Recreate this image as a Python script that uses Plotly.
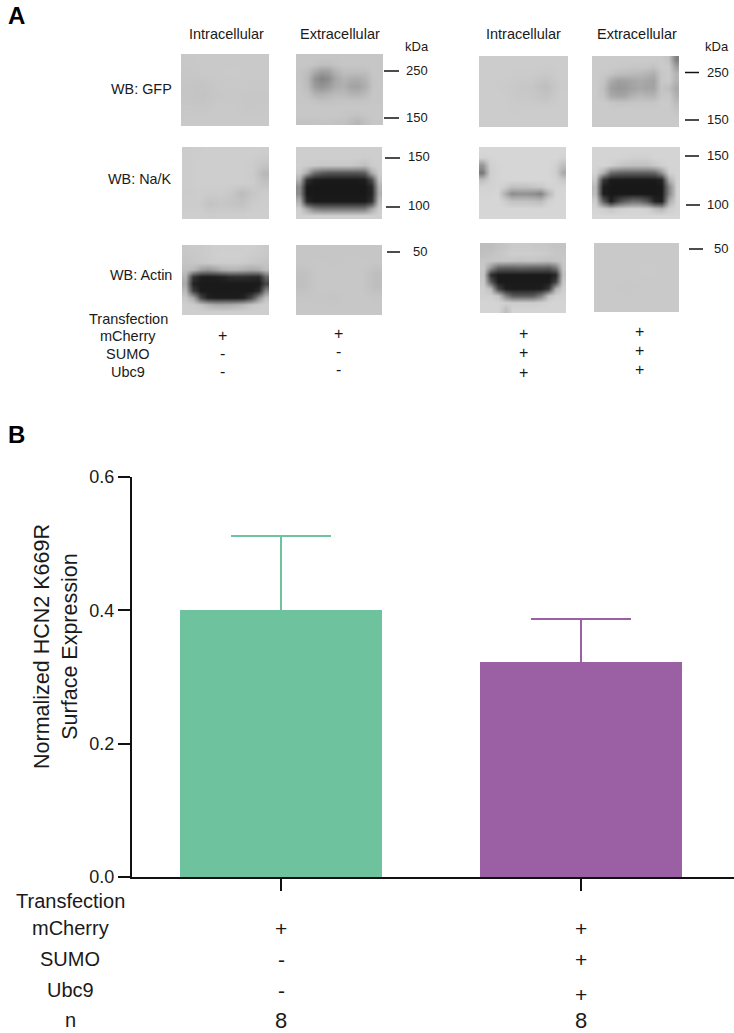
import plotly.graph_objects as go

W, H = 734, 1033

# ---------- Panel B data ----------
bar_groups = [0, 1]
bar_values = [0.40, 0.3225]
bar_errors = [0.111, 0.065]
bar_colors = ["#6FC29E", "#9B5FA3"]
y_ticks = [0.0, 0.2, 0.4, 0.6]

table_labels_b = ["Transfection", "mCherry", "SUMO", "Ubc9", "n"]
table_col1_b = ["+", "-", "-", "8"]
table_col2_b = ["+", "+", "+", "8"]

# ---------- Panel A blot densities (grey level 0-255, read by eye) ----------
gfp_in_l = [
    [200, 201, 201, 201, 201, 201],
    [199, 201, 201, 202, 201, 201],
    [197, 196, 200, 201, 200, 200],
    [197, 195, 199, 200, 199, 199],
    [199, 199, 201, 201, 199, 200],
    [201, 201, 201, 201, 201, 201],
]
gfp_ex_l = [
    [198, 198, 198, 198, 198, 198, 198, 198, 198, 198, 198, 198],
    [198, 198, 195, 190, 190, 195, 198, 198, 198, 198, 198, 198],
    [196, 190, 170, 156, 160, 180, 190, 190, 190, 190, 198, 198],
    [196, 185, 148, 132, 142, 168, 180, 174, 172, 180, 196, 198],
    [197, 188, 156, 146, 156, 172, 176, 164, 162, 174, 196, 198],
    [198, 194, 178, 174, 180, 186, 186, 180, 178, 186, 198, 198],
    [198, 198, 195, 192, 193, 195, 196, 196, 195, 196, 198, 198],
    [199, 199, 199, 199, 199, 199, 199, 199, 199, 199, 199, 199],
    [199, 199, 199, 199, 199, 199, 198, 196, 194, 198, 199, 199],
    [195, 195, 195, 196, 196, 194, 194, 188, 182, 192, 198, 198],
]
nak_in_l = [
    [204, 205, 206, 206, 206, 206, 206, 205],
    [204, 206, 206, 206, 206, 206, 204, 198],
    [204, 206, 206, 206, 206, 206, 203, 184],
    [204, 206, 206, 206, 206, 206, 204, 194],
    [203, 205, 203, 204, 199, 188, 198, 204],
    [204, 204, 195, 198, 196, 194, 203, 205],
    [206, 206, 204, 205, 205, 205, 206, 206],
]
nak_ex_l = [
    [206, 206, 206, 206, 206, 206, 206, 206, 206, 206, 206, 206],
    [206, 206, 206, 206, 206, 206, 206, 206, 206, 204, 206, 206],
    [206, 204, 202, 200, 200, 200, 200, 200, 196, 190, 204, 206],
    [202, 172, 112, 92, 86, 86, 86, 86, 86, 96, 172, 205],
    [176, 50, 28, 26, 26, 26, 26, 26, 26, 30, 76, 196],
    [140, 26, 24, 24, 24, 24, 24, 24, 24, 24, 40, 180],
    [140, 26, 24, 24, 24, 24, 24, 24, 24, 24, 36, 175],
    [176, 40, 26, 26, 26, 26, 26, 26, 26, 26, 50, 190],
    [206, 166, 128, 118, 118, 118, 118, 118, 118, 122, 166, 206],
    [208, 208, 208, 208, 208, 208, 208, 208, 208, 208, 208, 208],
]
act_in_l = [
    [200, 202, 202, 204, 206, 206, 206, 206, 206, 206, 204, 202],
    [198, 200, 202, 204, 206, 208, 208, 208, 206, 204, 202, 200],
    [196, 198, 200, 202, 204, 204, 204, 204, 202, 200, 198, 196],
    [192, 185, 160, 150, 160, 175, 180, 180, 175, 170, 175, 190],
    [178, 56, 30, 28, 30, 34, 44, 46, 46, 42, 40, 104],
    [168, 34, 26, 26, 26, 26, 26, 26, 26, 26, 26, 70],
    [184, 62, 26, 26, 26, 26, 26, 26, 26, 26, 40, 136],
    [200, 170, 72, 34, 28, 28, 28, 28, 34, 70, 142, 194],
    [206, 204, 196, 182, 172, 170, 172, 178, 186, 198, 204, 206],
    [206, 206, 206, 206, 206, 206, 206, 206, 206, 206, 206, 206],
]
act_ex_l = [
    [198, 198, 198, 198, 198, 198],
    [198, 199, 198, 199, 199, 198],
    [192, 199, 199, 199, 199, 190],
    [192, 199, 199, 199, 199, 190],
    [198, 198, 197, 199, 199, 198],
    [199, 199, 199, 199, 199, 199],
]
gfp_in_r = [
    [204, 204, 204, 204, 204, 204],
    [204, 204, 203, 203, 200, 204],
    [204, 203, 200, 198, 190, 203],
    [204, 204, 201, 200, 196, 204],
    [204, 204, 203, 204, 204, 204],
    [204, 204, 204, 204, 204, 204],
]
gfp_ex_r = [
    [202, 202, 202, 202, 202, 202, 202, 202, 202, 202, 194, 130],
    [202, 202, 202, 200, 200, 198, 198, 198, 194, 202, 202, 160],
    [202, 200, 196, 190, 188, 186, 184, 180, 174, 198, 202, 180],
    [202, 196, 172, 160, 160, 166, 170, 166, 162, 198, 202, 180],
    [202, 192, 160, 152, 154, 162, 168, 164, 164, 196, 190, 170],
    [202, 196, 170, 164, 166, 178, 184, 180, 180, 198, 200, 178],
    [202, 202, 198, 196, 196, 198, 198, 198, 198, 202, 202, 188],
    [202, 202, 202, 202, 202, 202, 202, 202, 202, 202, 202, 196],
    [202, 202, 202, 202, 202, 202, 202, 202, 202, 202, 202, 200],
    [202, 202, 202, 202, 202, 202, 202, 202, 202, 202, 202, 202],
]
nak_in_r = [
    [214, 214, 214, 214, 214, 214, 214, 214, 214, 214, 214, 214],
    [210, 212, 214, 214, 214, 214, 214, 214, 214, 214, 214, 210],
    [150, 208, 212, 214, 214, 214, 214, 214, 214, 214, 208, 190],
    [120, 206, 212, 214, 214, 214, 214, 214, 214, 214, 206, 170],
    [190, 208, 212, 214, 214, 214, 214, 214, 214, 214, 210, 200],
    [210, 210, 212, 206, 192, 194, 194, 198, 200, 210, 212, 212],
    [212, 212, 214, 176, 140, 144, 144, 140, 130, 180, 212, 214],
    [214, 214, 214, 206, 194, 194, 194, 192, 188, 208, 214, 214],
    [214, 214, 214, 214, 214, 214, 214, 214, 214, 214, 214, 214],
    [214, 214, 214, 214, 214, 214, 214, 214, 214, 214, 214, 214],
]
nak_ex_r = [
    [212, 212, 212, 212, 212, 212, 212, 212, 212, 212, 212, 212],
    [212, 212, 212, 212, 210, 208, 208, 208, 212, 212, 212, 212],
    [212, 212, 208, 200, 194, 192, 192, 192, 200, 208, 212, 212],
    [210, 176, 110, 100, 96, 96, 96, 96, 102, 146, 208, 212],
    [198, 56, 26, 26, 26, 26, 26, 26, 26, 36, 176, 212],
    [184, 30, 24, 24, 24, 24, 24, 24, 24, 26, 136, 212],
    [186, 30, 24, 24, 24, 24, 24, 24, 24, 26, 136, 212],
    [204, 96, 30, 70, 96, 112, 108, 84, 34, 30, 172, 212],
    [212, 206, 196, 206, 210, 212, 212, 208, 190, 180, 206, 212],
    [214, 214, 214, 214, 214, 214, 214, 214, 214, 214, 214, 214],
]
act_in_r = [
    [190, 190, 194, 198, 202, 202, 202, 200, 200, 198, 196, 196],
    [192, 194, 198, 202, 206, 206, 206, 206, 204, 202, 198, 198],
    [198, 198, 198, 198, 196, 194, 196, 196, 194, 192, 196, 200],
    [200, 150, 100, 96, 96, 100, 98, 96, 96, 92, 120, 198],
    [198, 48, 26, 26, 26, 26, 26, 26, 26, 26, 40, 192],
    [202, 90, 26, 26, 26, 26, 26, 26, 26, 26, 66, 200],
    [206, 188, 70, 30, 28, 28, 28, 28, 30, 56, 176, 206],
    [208, 208, 196, 128, 90, 88, 88, 92, 126, 194, 208, 210],
    [212, 212, 212, 208, 204, 204, 204, 204, 208, 212, 212, 212],
    [212, 212, 212, 190, 212, 212, 212, 212, 212, 212, 212, 212],
]
act_ex_r = [
    [201, 201, 201, 201],
    [201, 201, 202, 201],
    [201, 200, 201, 201],
    [201, 201, 201, 201],
]

# matrix, left, right, top, bottom (page pixels)
blots = [
    (gfp_in_l, 181, 269, 54, 126), (gfp_ex_l, 296, 383, 54, 125),
    (nak_in_l, 182, 269, 147, 219), (nak_ex_l, 296, 382, 147, 219),
    (act_in_l, 182, 269, 245, 315), (act_ex_l, 296, 382, 245, 315),
    (gfp_in_r, 479, 568, 56, 127), (gfp_ex_r, 592, 679, 56, 127),
    (nak_in_r, 479, 566, 147, 219), (nak_ex_r, 592, 680, 147, 219),
    (act_in_r, 480, 566, 243, 313), (act_ex_r, 594, 679, 243, 312),
]

marker_ticks = [
    (384, 399, 71), (384, 399, 118), (385, 400, 158), (386, 400, 207), (387, 400, 252),
    (685, 699, 72.5), (685, 699, 120), (685, 699, 156), (686, 700, 205), (689, 703, 249),
]
ink = "#1a1a1a"
header_texts = [
    ("Intracellular", 226.5, 34), ("Extracellular", 340, 34),
    ("Intracellular", 523, 34), ("Extracellular", 636.5, 34),
    ("Transfection", 128, 319), ("mCherry", 128, 336), ("SUMO", 128, 354), ("Ubc9", 128, 372),
]
size_texts = [
    ("kDa", 417, 46), ("kDa", 717, 46),
    ("250", 417, 70), ("150", 417, 117), ("150", 419, 156), ("100", 419, 205), ("50", 420, 251),
    ("250", 718, 72), ("150", 718, 119), ("150", 718, 155), ("100", 718, 204), ("50", 721, 248),
]
sign_texts = [
    ("+", 222.5, 335), ("-", 222.5, 353), ("-", 222.5, 371),
    ("+", 338.5, 333), ("-", 338.5, 351), ("-", 338.5, 369),
    ("+", 523, 333), ("+", 523, 352), ("+", 523, 372),
    ("+", 639.5, 331), ("+", 639.5, 350), ("+", 639.5, 369),
]
wb_texts = [("WB: GFP", 174, 89), ("WB: Na/K", 174, 179), ("WB: Actin", 174, 275)]

fig = go.Figure()

# Error bars sit on a transparent carrier drawn first, so that the solid bar
# hides their lower cap, as in the reference.
cap_hide = 0.003
for g, v, e, c in zip(bar_groups, bar_values, bar_errors, bar_colors):
    fig.add_trace(go.Bar(
        x=[g], y=[v - cap_hide], width=0.673, marker=dict(color="rgba(0,0,0,0)", line=dict(width=0)),
        error_y=dict(type="data", symmetric=False, array=[e + cap_hide], arrayminus=[0],
                     color=c, thickness=2, width=50),
        showlegend=False, hoverinfo="skip",
    ))
for g, v, c in zip(bar_groups, bar_values, bar_colors):
    fig.add_trace(go.Bar(
        x=[g], y=[v], width=0.673, marker=dict(color=c, line=dict(width=0)),
        showlegend=False, hoverinfo="skip",
    ))

for z, l, r, t, b in blots:
    dx = (r - l) / len(z[0])
    dy = (b - t) / len(z)
    fig.add_trace(go.Heatmap(
        z=z, x0=l + dx / 2, dx=dx, y0=t + dy / 2, dy=dy, xaxis="x2", yaxis="y2",
        zmin=0, zmax=255, zsmooth="best", showscale=False, hoverinfo="skip",
        colorscale=[[0, "rgb(0,0,0)"], [1, "rgb(255,255,255)"]],
    ))

shapes = [
    dict(type="line", xref="x2", yref="y2", x0=a, x1=b, y0=y, y1=y,
         line=dict(color="#111111", width=1.5))
    for a, b, y in marker_ticks
]

def note(text, x, y, size, anchor="center", bold=False, color=ink, angle=0):
    return dict(text=f"<b>{text}</b>" if bold else text, xref="x2", yref="y2", x=x, y=y,
                xanchor=anchor, yanchor="middle", showarrow=False, textangle=angle,
                font=dict(size=size, color=color))

ann = [note("A", 16, 15, 24, bold=True, color="#000000"),
       note("B", 16, 434, 24, bold=True, color="#000000")]
ann += [note(t, x, y, 14.5) for t, x, y in header_texts]
ann += [note(t, x, y, 13) for t, x, y in size_texts]
ann += [note(t, x, y, 16) for t, x, y in sign_texts]
ann += [note(t, x, y, 14.4, anchor="right") for t, x, y in wb_texts]
ann.append(note("Normalized HCN2 K669R<br>Surface Expression", 56, 647, 21.5, angle=-90))

table_ys = [901, 928, 959, 990, 1020]
table_ys2 = [928, 959, 994, 1020.5]
for t, y in zip(table_labels_b, table_ys):
    ann.append(note(t, 70, y, 20))
for t, y in zip(table_col1_b, table_ys[1:]):
    ann.append(note(t, 281, y, 22 if t == "8" else 21))
for t, y in zip(table_col2_b, table_ys2):
    ann.append(note(t, 581, y, 22 if t == "8" else 21))

fig.update_layout(
    width=W, height=H, margin=dict(l=0, r=0, t=0, b=0), autosize=False,
    paper_bgcolor="white", plot_bgcolor="rgba(0,0,0,0)",
    font=dict(family="Liberation Sans, Arial, sans-serif", color=ink),
    bargap=0, barmode="overlay", shapes=shapes, annotations=ann,
    xaxis=dict(
        domain=[132 / W, 1], range=[(132 - 281) / 300, (734 - 281) / 300],
        tickmode="array", tickvals=bar_groups, ticktext=["", ""],
        ticks="outside", ticklen=12, tickwidth=2, tickcolor="#111111",
        showline=True, linecolor="#111111", linewidth=2, showgrid=False, zeroline=False,
        automargin=False,
    ),
    yaxis=dict(
        domain=[(H - 877) / H, (H - 477) / H], range=[0, 0.6],
        tickmode="array", tickvals=y_ticks, tickformat=".1f",
        ticks="outside", ticklen=12, tickwidth=2, tickcolor="#111111",
        tickfont=dict(size=18, color=ink),
        showline=True, linecolor="#111111", linewidth=2, showgrid=False, zeroline=False,
        automargin=False,
    ),
    xaxis2=dict(domain=[0, 1], range=[0, W], visible=False, anchor="y2"),
    yaxis2=dict(domain=[0, 1], range=[H, 0], visible=False, anchor="x2"),
)

fig.write_html("out.html", config={"displayModeBar": False},
               post_script="document.body.style.margin='0';document.body.style.overflow='hidden';")
